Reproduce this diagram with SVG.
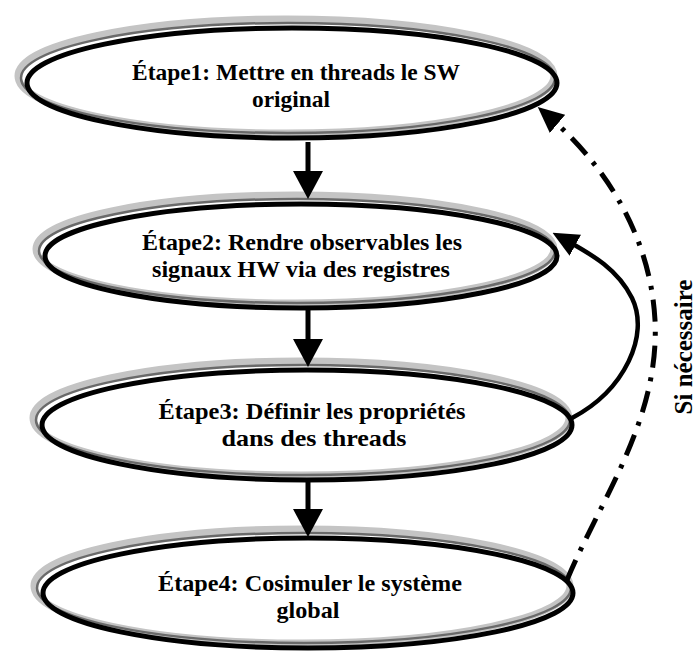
<svg xmlns="http://www.w3.org/2000/svg" width="700" height="652" viewBox="0 0 700 652">
<style>
  .halo { fill: none; stroke: #c4c4c4; stroke-width: 7; }
  .inner { fill: none; stroke: #6a6a6a; stroke-width: 2.5; }
  .main { fill: none; stroke: #000; stroke-width: 5; }
  .lbl { font-family: "Liberation Serif", "Times New Roman", serif; font-weight: bold; font-size: 24px; fill: #000; text-anchor: middle; }
  .side { font-family: "Liberation Serif", "Times New Roman", serif; font-weight: bold; font-size: 25px; fill: #000; text-anchor: middle; }
  .flow { fill: none; stroke: #000; stroke-width: 5; }
  .back { fill: none; stroke: #000; stroke-width: 4.5; }
  .opt { fill: none; stroke: #000; stroke-width: 5; stroke-dasharray: 22 10 4 10; }
</style>
<defs>
  <marker id="ah" markerUnits="userSpaceOnUse" markerWidth="30" markerHeight="30" viewBox="0 0 28 30" refX="18" refY="15" orient="auto">
    <path d="M0,0 L28,15 L0,30 z" fill="#000"/>
  </marker>
  <marker id="ahs" markerUnits="userSpaceOnUse" markerWidth="26" markerHeight="24" viewBox="0 0 24 22" refX="14" refY="11" orient="auto">
    <path d="M0,0 L24,11 L0,22 z" fill="#000"/>
  </marker>
</defs>
<rect width="700" height="652" fill="#fff"/>

<g id="etape1">
  <ellipse class="halo" cx="286" cy="76" rx="268" ry="57"/>
  <ellipse class="inner" cx="288" cy="78" rx="267" ry="55"/>
  <ellipse class="main" cx="292" cy="83" rx="265" ry="55"/>
  <text class="lbl" x="296" y="80" textLength="328" lengthAdjust="spacingAndGlyphs">Étape1: Mettre en threads le SW</text>
  <text class="lbl" x="291" y="107" textLength="78" lengthAdjust="spacingAndGlyphs">original</text>
</g>

<g id="etape2">
  <ellipse class="halo" cx="295" cy="249" rx="259" ry="54"/>
  <ellipse class="inner" cx="297" cy="251" rx="258" ry="52"/>
  <ellipse class="main" cx="301" cy="256" rx="256" ry="52"/>
  <text class="lbl" x="302" y="250" textLength="320" lengthAdjust="spacingAndGlyphs">Étape2: Rendre observables les</text>
  <text class="lbl" x="301" y="277" textLength="298" lengthAdjust="spacingAndGlyphs">signaux HW via des registres</text>
</g>

<g id="etape3">
  <ellipse class="halo" cx="301" cy="418" rx="268" ry="57"/>
  <ellipse class="inner" cx="303" cy="420" rx="267" ry="55"/>
  <ellipse class="main" cx="307" cy="425" rx="265" ry="55"/>
  <text class="lbl" x="312" y="419" textLength="307" lengthAdjust="spacingAndGlyphs">Étape3: Définir les propriétés</text>
  <text class="lbl" x="314" y="446" textLength="185" lengthAdjust="spacingAndGlyphs">dans des threads</text>
</g>

<g id="etape4">
  <ellipse class="halo" cx="302" cy="586" rx="268" ry="57"/>
  <ellipse class="inner" cx="304" cy="588" rx="267" ry="55"/>
  <ellipse class="main" cx="308" cy="593" rx="265" ry="55"/>
  <text class="lbl" x="310" y="591" textLength="304" lengthAdjust="spacingAndGlyphs">Étape4: Cosimuler le système</text>
  <text class="lbl" x="308" y="618" textLength="63" lengthAdjust="spacingAndGlyphs">global</text>
</g>

<g id="connectors">
  <path class="flow" d="M308,142 L308,189" marker-end="url(#ah)"/>
  <path class="flow" d="M308,310 L308,357" marker-end="url(#ah)"/>
  <path class="flow" d="M308,482 L308,527" marker-end="url(#ah)"/>
  <path class="back" d="M572,418 C625,390 650,335 632,298 C618,270 595,256 562,238" marker-end="url(#ahs)"/>
  <path class="opt" d="M567,580 C600,500 660,420 655,320 C650,230 600,160 546,114" marker-end="url(#ahs)"/>
</g>

<text class="side" transform="translate(692,347) rotate(-90)">Si nécessaire</text>
</svg>
